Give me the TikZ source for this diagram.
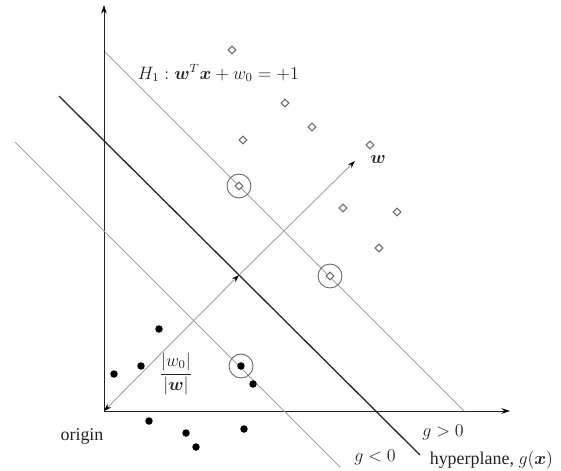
\documentclass[tikz,border=0pt]{standalone}
\usepackage{amsmath,amssymb,bm}
\usepackage{fontspec}
\setmainfont{Liberation Serif}
\usepackage{xcolor}
\usetikzlibrary{calc,arrows.meta,positioning,shapes.geometric}
\definecolor{linec}{HTML}{A0A0A0}
\definecolor{darkc}{HTML}{222222}
\definecolor{ringc}{HTML}{6A6A6A}
\tikzset{
  ax/.style={-{Stealth[length=2mm,width=1.3mm,black]},semithick,darkc},
  mar/.style={linec,semithick},
  hyp/.style={darkc,line width=0.85pt},
  nrm/.style={linec,semithick},
  arrtip/.style={-{Stealth[length=1.8mm,width=1.2mm,black]}},
  posdot/.style={diamond,draw=ringc,fill=white,thick,minimum size=5.5pt,inner sep=0pt},
  negdot/.style={circle,fill=black,minimum size=5pt,inner sep=0pt},
  svring/.style={circle,draw=ringc,semithick,minimum size=16pt,inner sep=0pt},
  lbl/.style={darkc,inner sep=1pt,font=\fontsize{12}{14}\selectfont}
}

\begin{document}
\begin{tikzpicture}[x=0.0235cm,y=-0.0235cm]
\useasboundingbox (0,0) rectangle (561,470);
% axes
\coordinate (O) at (104,411);
\coordinate (ytop) at (104,5);
\coordinate (xend) at (510,411);
\draw[ax] (O) -- (ytop);
\draw[ax] (O) -- (xend);
% margins and hyperplane
\coordinate (h1a) at (105,52);  \coordinate (h1b) at (464,411);
\coordinate (h2a) at (15,142);  \coordinate (h2b) at (340,467);
\coordinate (hpa) at (59,96);   \coordinate (hpb) at (420,455);
\draw[mar] (h1a) -- (h1b);
\draw[mar] (h2a) -- (h2b);
\draw[hyp] (hpa) -- (hpb);
% normal vector
\coordinate (F) at (239,275);
\coordinate (W) at (355,161);
\draw[nrm,{Stealth[length=1.8mm,width=1.2mm,black]}-{Stealth[length=1.8mm,width=1.2mm,black]}] (F) -- (O);
\draw[nrm,arrtip] (F) -- (W);
% class +1
\foreach \p/\q in {232/50,285/103,312/127,243/140,370/145,239/186,343/208,397/212,379/248,330/276}
  \node[posdot] (p\p) at (\p,\q) {};
% class -1
\foreach \p/\q in {159/329,141/366,114/374,241/366,253/384,149/421,186/433,196/447,244/429}
  \node[negdot] (n\p) at (\p,\q) {};
% support vectors
\node[svring] (s1) at (p239) {};
\node[svring] (s2) at (p330) {};
\node[svring] (s3) at (n241) {};
% labels
\node[lbl,anchor=west] (lH) at (136,73) {$H_1 : \bm{w}^T\bm{x} + w_0 = +1$};
\node[lbl] (lw) at (378,160) {$\bm{w}$};
\node[lbl] (ld) at (176,374) {$\dfrac{|w_0|}{|\bm{w}|}$};
\node[lbl] (lo) at (82,436) {origin};
\node[lbl] (lgp) at (443,432) {$g>0$};
\node[lbl] (lgn) at (375,457) {$g<0$};
\node[lbl,anchor=west] (lhp) at (428,460) {hyperplane, $g(\bm{x})$};
\end{tikzpicture}
\end{document}
